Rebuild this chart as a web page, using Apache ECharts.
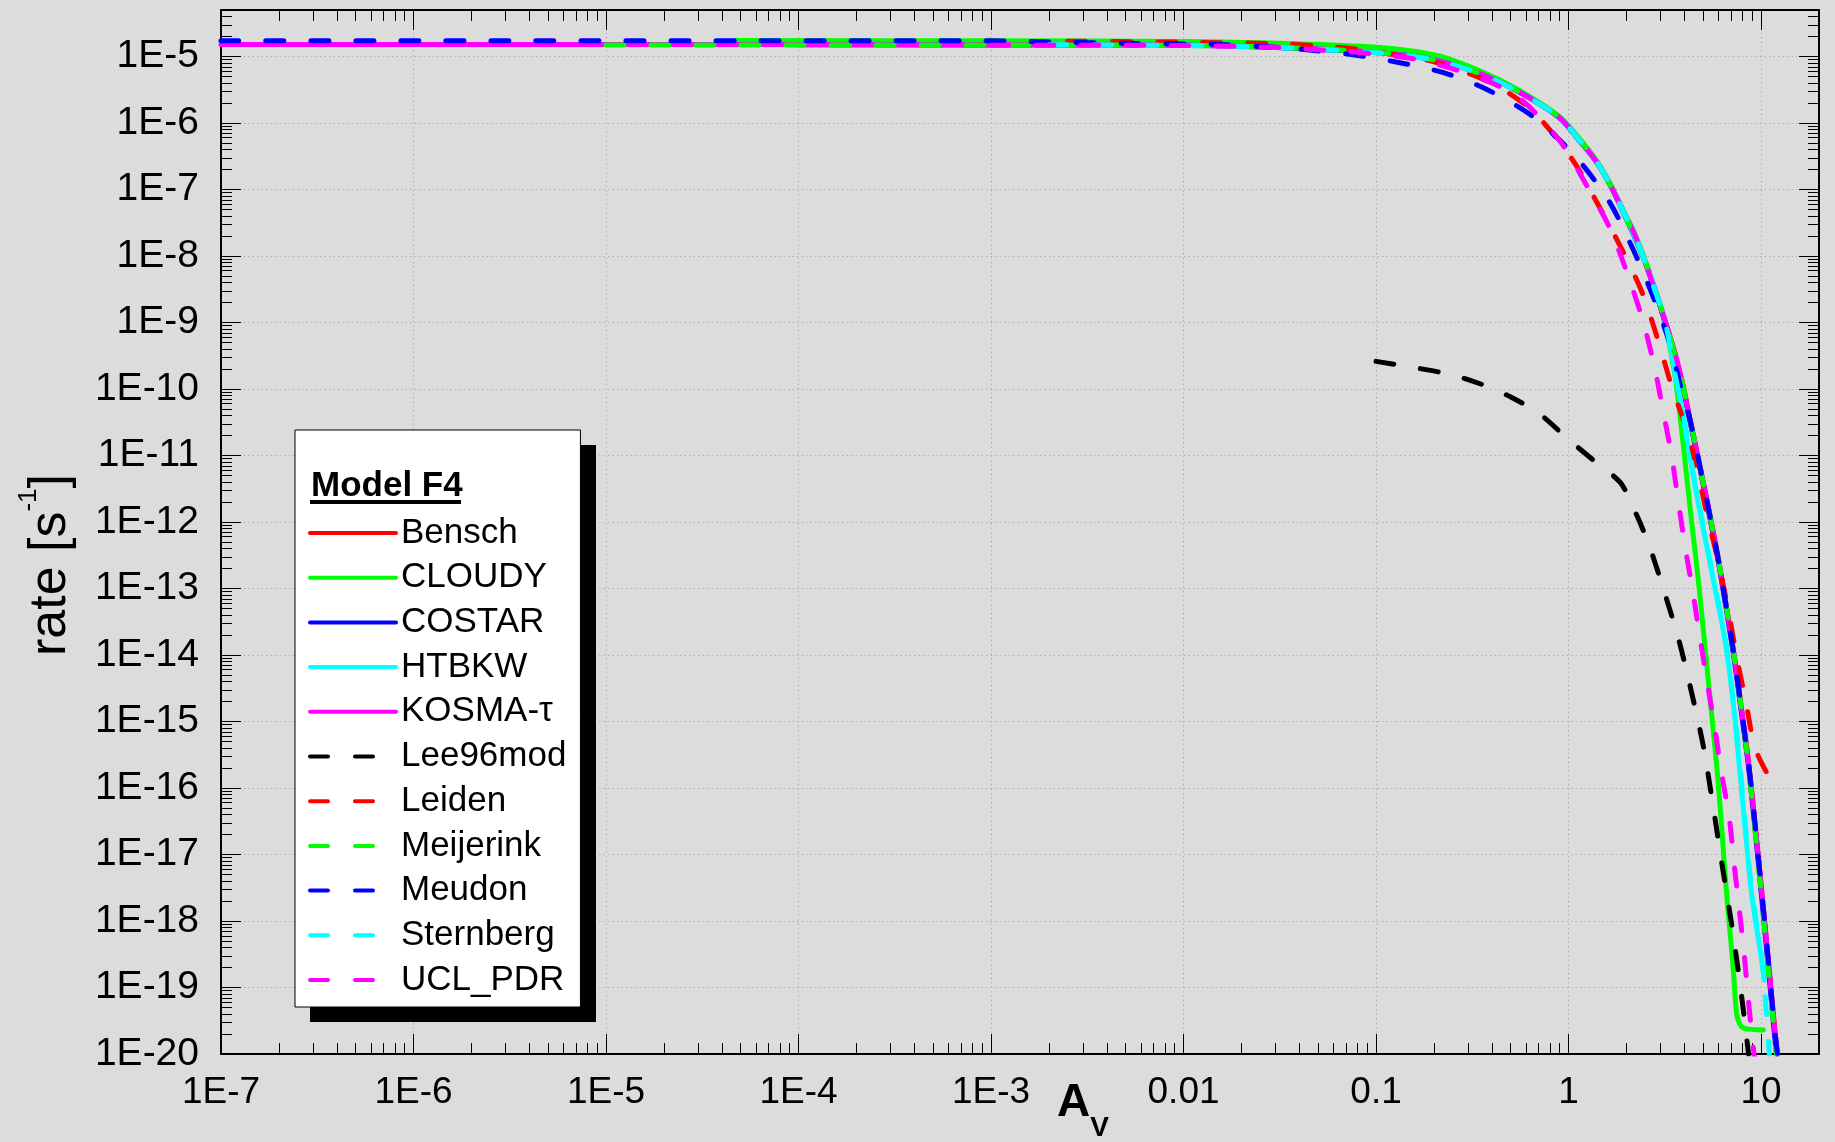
<!DOCTYPE html>
<html><head><meta charset="utf-8">
<script src="https://cdn.jsdelivr.net/npm/echarts@6/dist/echarts.min.js"></script>
<style>html,body{margin:0;padding:0;background:#dcdcdc}#c{width:1835px;height:1142px}</style>
</head><body><div id="c"></div>
<script>
// ---- data: [Av, rate] pairs ----
const bensch = [[1e-3,1.53e-5],[0.01,1.49e-5],[0.0316,1.39e-5],[0.1,1.16e-5],[0.2,9.0e-6],[0.347,5.6e-6],[0.55,3.0e-6],[0.89,1.25e-6],[1.14,5.6e-7],[1.4,2.65e-7],[1.65,1.18e-7],[1.94,4.5e-8],[2.48,8.9e-9],[3.16,1.12e-9],[3.86,1.45e-10],[4.27,3.6e-11],[4.81,7.0e-12],[5.38,1.45e-12],[6.0,2.8e-13],[6.62,5.2e-14],[7.28,9.2e-15],[7.94,1.45e-15],[8.59,2.6e-16],[9.31,2.9e-17],[10.07,2.9e-18],[10.91,2.6e-19],[11.7,2.9e-20],[12.15,1.0e-20]];
const cloudy = [[4.7e-5,1.74e-5],[1e-3,1.72e-5],[0.01,1.68e-5],[0.0316,1.58e-5],[0.1,1.38e-5],[0.207,1.04e-5],[0.351,6.0e-6],[0.547,3.16e-6],[0.89,1.26e-6],[1.14,5.8e-7],[1.4,2.7e-7],[1.65,1.2e-7],[1.94,4.6e-8],[2.19,2.3e-8],[2.48,9.1e-9],[2.8,3.2e-9],[3.16,1.0e-9],[3.55,1.78e-10],[3.78,4.4e-11],[4.31,1.35e-12],[4.72,1.35e-13],[5.11,1.35e-14],[5.53,1.35e-15],[5.92,1.78e-16],[6.24,2.6e-17],[6.62,2.6e-18],[7.11,2.6e-19],[7.46,4.1e-20],[7.71,2.9e-20],[8.13,2.45e-20],[10.28,2.3e-20]];
const costar = [[1e-4,1.5e-5],[0.01,1.47e-5],[0.1,1.15e-5],[0.2,8.9e-6],[0.347,5.5e-6],[0.55,2.95e-6],[0.89,1.22e-6],[1.14,5.4e-7],[1.4,2.55e-7],[1.65,1.14e-7],[1.94,4.3e-8],[2.48,8.5e-9],[3.16,1.05e-9],[3.86,1.3e-10],[4.27,3.3e-11],[4.81,6.5e-12],[5.38,1.3e-12],[6.0,2.5e-13],[6.62,4.6e-14],[7.28,8.0e-15],[7.94,1.25e-15],[8.59,2.2e-16],[9.31,2.4e-17],[10.07,2.3e-18],[10.91,2.0e-19],[11.7,2.2e-20],[12.05,1.0e-20]];
const htbkw = [[1e-3,1.5e-5],[0.01,1.47e-5],[0.0316,1.37e-5],[0.1,1.15e-5],[0.2,8.9e-6],[0.347,5.5e-6],[0.55,2.95e-6],[0.89,1.23e-6],[1.14,5.5e-7],[1.4,2.6e-7],[1.65,1.16e-7],[1.94,4.4e-8],[2.48,8.7e-9],[3.16,1.1e-9],[3.64,1.38e-10],[3.98,3.2e-11],[4.47,4.5e-12],[5.01,7.9e-13],[5.65,1.35e-13],[6.58,1.35e-14],[7.26,1.35e-15],[7.73,2.0e-16],[8.26,2.6e-17],[8.93,2.6e-18],[10.07,2.6e-19],[10.38,1.3e-19]];
const kosma = [[1e-7,1.52e-5],[3.16e-3,1.51e-5],[0.01,1.48e-5],[0.0316,1.38e-5],[0.063,1.26e-5],[0.1,1.15e-5],[0.2,8.9e-6],[0.347,5.5e-6],[0.55,2.95e-6],[0.89,1.23e-6],[1.14,5.5e-7],[1.4,2.6e-7],[1.65,1.16e-7],[1.94,4.4e-8],[2.19,2.2e-8],[2.48,8.7e-9],[2.8,3.1e-9],[3.16,1.1e-9],[3.57,3.5e-10],[3.86,1.4e-10],[4.27,3.5e-11],[4.81,6.9e-12],[5.38,1.4e-12],[6.0,2.7e-13],[6.62,5.0e-14],[7.28,8.9e-15],[7.94,1.41e-15],[8.59,2.5e-16],[9.31,2.8e-17],[10.07,2.8e-18],[10.91,2.5e-19],[11.7,2.8e-20],[12.16,1.0e-20]];
const lee96mod = [[0.1,2.6e-10],[0.158,2.1e-10],[0.251,1.62e-10],[0.355,1.17e-10],[0.501,7.6e-11],[0.708,4.2e-11],[1.0,1.74e-11],[1.41,7.6e-12],[1.86,3.9e-12],[2.14,1.78e-12],[2.4,8.5e-13],[2.69,3.6e-13],[3.16,8.5e-14],[3.72,1.78e-14],[4.27,3.5e-15],[5.01,4.3e-16],[5.62,5.6e-17],[6.31,6.3e-18],[7.08,7.9e-19],[7.94,7.1e-20],[8.61,1.0e-20]];
const leiden = [[2.5e-3,1.7e-5],[0.01,1.64e-5],[0.0316,1.55e-5],[0.063,1.38e-5],[0.1,1.17e-5],[0.2,8.3e-6],[0.396,4.0e-6],[0.644,1.55e-6],[1.04,2.9e-7],[1.43,5.8e-8],[1.9,1.23e-8],[2.42,2.75e-9],[2.91,5.5e-10],[3.35,1.38e-10],[3.49,9.3e-11],[4.17,2.2e-11],[4.72,5.0e-12],[5.32,1.07e-12],[6.0,2.5e-13],[6.76,4.7e-14],[7.5,8.9e-15],[8.36,1.9e-15],[9.31,4.0e-16],[11.1,1.4e-16]];
const meijerink = [[1e-5,1.49e-5],[1e-3,1.49e-5],[0.01,1.47e-5],[0.0316,1.37e-5],[0.1,1.15e-5],[0.2,8.9e-6],[0.347,5.5e-6],[0.55,2.95e-6],[0.89,1.25e-6],[1.14,5.6e-7],[1.4,2.6e-7],[1.65,1.16e-7],[1.94,4.4e-8],[2.48,8.7e-9],[3.16,1.1e-9],[3.86,1.4e-10],[4.27,3.5e-11],[4.81,6.9e-12],[5.38,1.4e-12],[6.0,2.7e-13],[6.62,5.0e-14],[7.28,8.9e-15],[7.94,1.41e-15],[8.55,2.5e-16],[9.25,2.8e-17],[10.0,2.8e-18],[10.8,2.5e-19],[11.6,2.8e-20],[12.0,1.0e-20]];
const meudon = [[1e-7,1.73e-5],[1e-3,1.72e-5],[1.7e-3,1.67e-5],[5.0e-3,1.58e-5],[0.0145,1.52e-5],[0.0257,1.41e-5],[0.0437,1.26e-5],[0.0759,1.06e-5],[0.129,8.2e-6],[0.224,5.7e-6],[0.379,3.16e-6],[0.658,1.23e-6],[1.09,3.1e-7],[1.63,6.5e-8],[2.14,1.35e-8],[2.70,2.8e-9],[3.35,4.9e-10],[3.80,1.16e-10],[4.27,3.5e-11],[4.81,6.9e-12],[5.38,1.4e-12],[6.0,2.7e-13],[6.62,5.0e-14],[7.28,8.9e-15],[7.94,1.41e-15],[8.59,2.5e-16],[9.31,2.8e-17],[10.07,2.8e-18],[10.91,2.5e-19],[11.7,2.8e-20],[12.16,1.0e-20]];
const sternberg = [[2e-3,1.5e-5],[0.01,1.46e-5],[0.0316,1.36e-5],[0.1,1.14e-5],[0.2,8.9e-6],[0.347,5.5e-6],[0.55,2.95e-6],[0.89,1.23e-6],[1.14,5.5e-7],[1.4,2.6e-7],[1.65,1.16e-7],[1.94,4.4e-8],[2.19,2.2e-8],[2.48,8.7e-9],[2.8,3.1e-9],[3.16,1.1e-9],[3.6,1.5e-10],[4.0,3.3e-11],[4.5,4.4e-12],[5.05,7.6e-13],[5.7,1.3e-13],[6.62,1.3e-14],[7.3,1.3e-15],[7.8,2.0e-16],[8.3,2.6e-17],[9.0,2.6e-18],[10.1,2.6e-19],[10.67,4e-20],[11.04,1e-20]];
const uclPdr = [[1e-3,1.48e-5],[0.01,1.46e-5],[0.0316,1.36e-5],[0.05,1.26e-5],[0.089,1.12e-5],[0.19,8.2e-6],[0.5,2.9e-6],[0.875,6.0e-7],[1.24,1.16e-7],[1.64,2.6e-8],[2.03,5.2e-9],[2.42,1.12e-9],[2.79,2.2e-10],[3.1,4.6e-11],[3.43,1.0e-11],[3.71,2.1e-12],[4.02,4.5e-13],[4.41,9.3e-14],[4.81,1.86e-14],[5.25,3.9e-15],[5.75,7.9e-16],[6.24,1.66e-16],[6.84,3.5e-17],[7.26,6.9e-18],[7.71,1.48e-18],[8.18,3.1e-19],[8.59,6.5e-20],[9.06,1.45e-20],[9.29,7.9e-21]];

const seriesNames = ['Bensch','CLOUDY','COSTAR','HTBKW','KOSMA-τ','Lee96mod','Leiden','Meijerink','Meudon','Sternberg','UCL_PDR'];
const seriesData = [bensch, cloudy, costar, htbkw, kosma, lee96mod, leiden, meijerink, meudon, sternberg, uclPdr];
const seriesColors = ['#ff0000','#00ff00','#0000ff','#00ffff','#ff00ff','#000000','#ff0000','#00ff00','#0000ff','#00ffff','#ff00ff'];
const seriesDashed = [false,false,false,false,false,true,true,true,true,true,true];

const xTickLabels = ['1E-7','1E-6','1E-5','1E-4','1E-3','0.01','0.1','1','10'];
const yTickLabels = ['1E-20','1E-19','1E-18','1E-17','1E-16','1E-15','1E-14','1E-13','1E-12','1E-11','1E-10','1E-9','1E-8','1E-7','1E-6','1E-5'];
const xRange = [1e-7, 20];
const yRange = [1e-20, 5e-5];

// ---- chart ----
const FONT = 'Liberation Sans';
const xMin = Math.log10(xRange[0]), xMax = Math.log10(xRange[1]);
const yMin = Math.log10(yRange[0]), yMax = Math.log10(yRange[1]);
function minorTicks(lo, hi) {
  const out = [];
  for (let n = Math.floor(lo); n <= Math.ceil(hi); n++) {
    for (let k = 2; k <= 9; k++) { const v = n + Math.log10(k); if (v > lo && v < hi) out.push(v); }
  }
  return out;
}
const xMinor = minorTicks(xMin, xMax);
const yMinor = minorTicks(yMin, yMax);
function fmt(labels, lo) {
  return function (v) { const i = Math.round(v); if (Math.abs(v - i) > 1e-6) return ''; const s = labels[i - lo]; return s === undefined ? '' : s; };
}
const black = {color: '#000', width: 2};
const tickStyle = {color: '#000', width: 1};
const gridStyle = {type: [1.5, 3], color: '#b0b0b0', width: 1};

function mkAxis(pos, lo, hi, major, isX) {
  const a = {
    type: 'value', position: pos, min: lo, max: hi,
    axisLine: {show: major, onZero: false, lineStyle: black},
    axisLabel: {show: false},
    splitLine: {show: false},
    axisTick: {show: true, inside: true, length: major ? 20 : 11, lineStyle: tickStyle}
  };
  if (major) a.interval = 1; else a.axisTick.customValues = isX ? xMinor : yMinor;
  return a;
}

const xAxes = [
  Object.assign(mkAxis('bottom', xMin, xMax, true, true), {
    axisLabel: {show: true, formatter: fmt(xTickLabels, -7), fontSize: 37, fontFamily: FONT, color: '#000', margin: 20, showMaxLabel: false},
    splitLine: {show: true, showMinLine: false, showMaxLine: false, lineStyle: gridStyle},
    name: '{a|A}{v|V}', nameLocation: 'middle', nameGap: 11, nameMoveOverlap: false,
    nameTextStyle: {padding: [0, 0, 0, 126], rich: {
      a: {fontSize: 46, fontWeight: 'bold', fontFamily: FONT, color: '#000', lineHeight: 50},
      v: {fontSize: 28, fontWeight: 'bold', fontFamily: FONT, color: '#000', verticalAlign: 'top', padding: [49, 0, 0, 0]}
    }}
  }),
  mkAxis('bottom', xMin, xMax, false, true),
  mkAxis('top', xMin, xMax, true, true),
  mkAxis('top', xMin, xMax, false, true)
];
const yAxes = [
  Object.assign(mkAxis('left', yMin, yMax, true, false), {
    axisLabel: {show: true, formatter: fmt(yTickLabels, -20), fontSize: 39, fontFamily: FONT, color: '#000', margin: 22, showMaxLabel: false},
    splitLine: {show: true, showMinLine: false, showMaxLine: false, lineStyle: gridStyle},
    name: '{n|rate [s}{s|-1}{n|]}', nameLocation: 'middle', nameGap: 135, nameRotate: 90, nameMoveOverlap: false,
    nameTextStyle: {padding: [0, 66, 0, 0], rich: {
      n: {fontSize: 52, fontFamily: FONT, color: '#000', lineHeight: 70},
      s: {fontSize: 26, fontFamily: FONT, color: '#000', verticalAlign: 'top', lineHeight: 26}
    }}
  }),
  mkAxis('left', yMin, yMax, false, false),
  mkAxis('right', yMin, yMax, true, false),
  mkAxis('right', yMin, yMax, false, false)
];

const series = seriesNames.map((name, i) => ({
  name: name, type: 'line', xAxisIndex: 0, yAxisIndex: 0,
  symbol: 'none', showSymbol: false, silent: true, animation: false,
  smooth: 0.3,
  data: seriesData[i].map(p => [Math.log10(p[0]), Math.log10(p[1])]),
  lineStyle: {color: seriesColors[i], width: 5, type: seriesDashed[i] ? [18, 27] : 'solid', cap: 'round', join: 'round'},
  itemStyle: {color: seriesColors[i]}
}));

const chart = echarts.init(document.getElementById('c'), null, {renderer: 'canvas'});
chart.setOption({
  backgroundColor: '#dcdcdc',
  animation: false,
  grid: {left: 221, right: 16, top: 10, bottom: 88, containLabel: false, outerBoundsMode: 'none'},
  xAxis: xAxes,
  yAxis: yAxes,
  legend: {
    orient: 'vertical', left: 295, top: 430, selectedMode: false,
    data: seriesNames,
    padding: [83, 14, 7, 13], itemGap: 4.7, itemWidth: 86, itemHeight: 14,
    backgroundColor: '#ffffff', borderColor: '#000', borderWidth: 1, borderRadius: 0,
    lineStyle: {width: 4},
    itemStyle: {opacity: 0, borderWidth: 0},
    textStyle: {fontSize: 35, fontFamily: FONT, color: '#000', lineHeight: 40}
  },
  graphic: [
    {type: 'rect', z: 1, shape: {x: 310, y: 445, width: 286, height: 577}, style: {fill: '#000'}},
    {type: 'text', x: 311, y: 486, z: 100, style: {text: 'Model F4', fill: '#000', font: 'bold 35px "Liberation Sans"', verticalAlign: 'middle', align: 'left'}},
    {type: 'rect', z: 100, shape: {x: 310, y: 500, width: 151, height: 4}, style: {fill: '#000'}}
  ],
  series: series
});
</script></body></html>
